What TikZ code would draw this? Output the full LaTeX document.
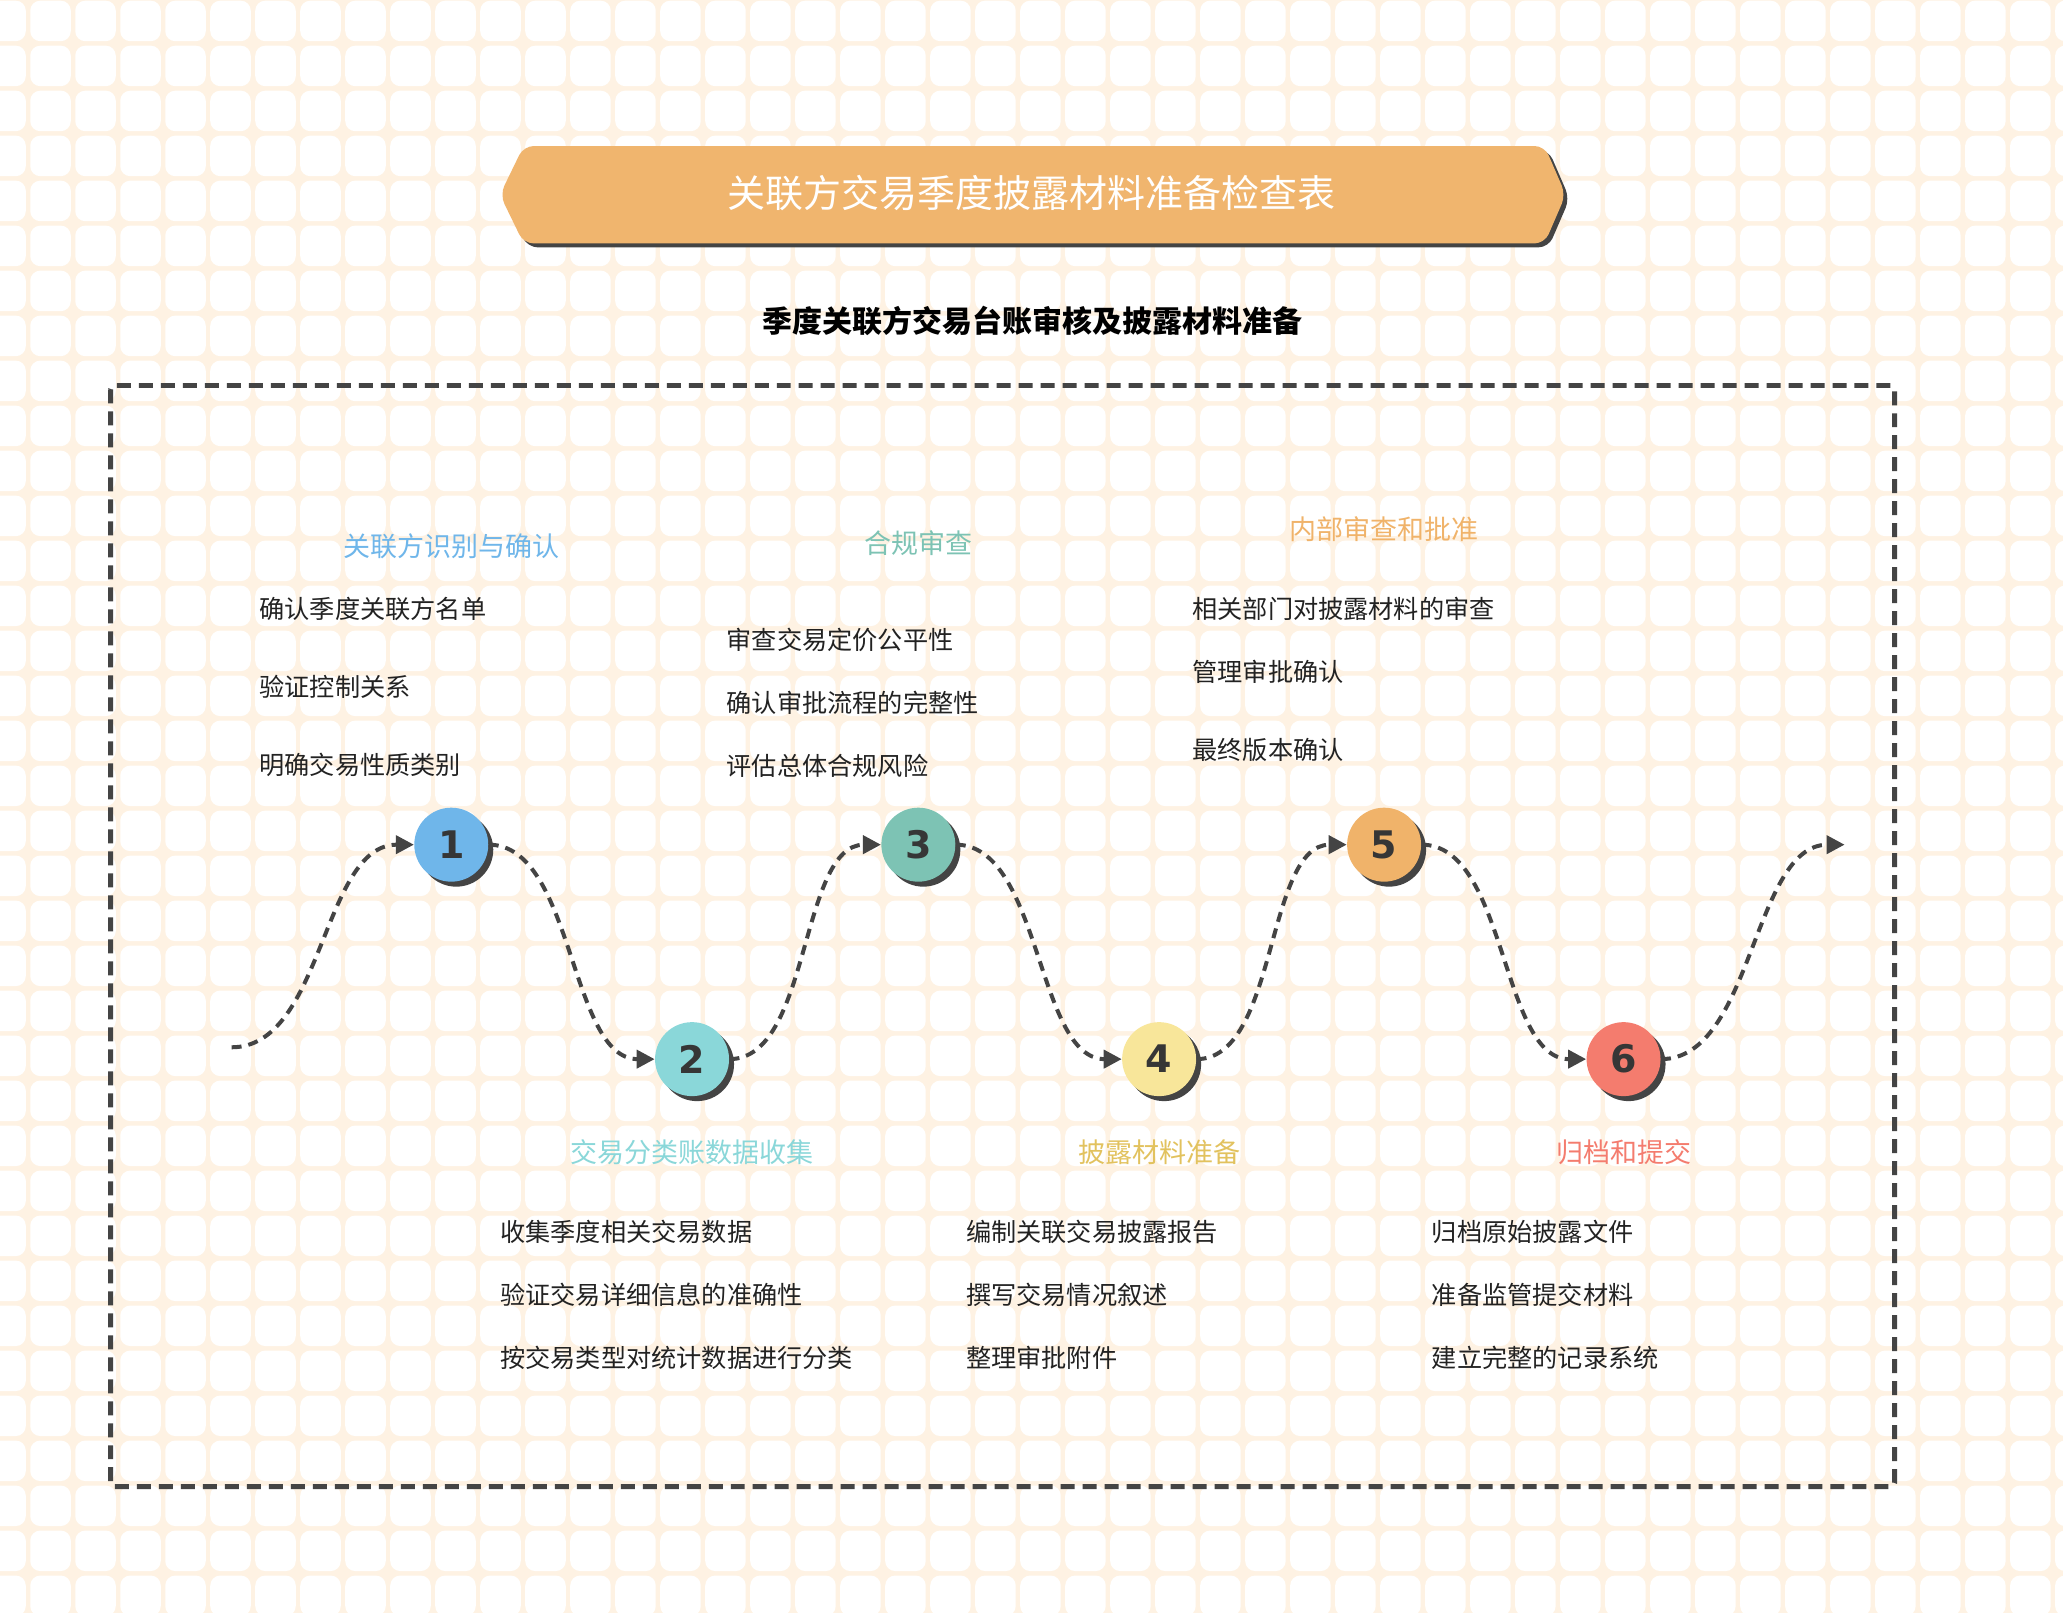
\documentclass[tikz,border=0pt]{standalone}
\usepackage{fontspec}
\newfontfamily\cjk{Noto Sans CJK SC}
\newfontfamily\numfont{DejaVu Sans}
\usetikzlibrary{arrows.meta,shadows}
\definecolor{bgc}{HTML}{FEF2E3}
\definecolor{bannerc}{HTML}{F0B56E}
\definecolor{linec}{HTML}{444444}
\definecolor{txtc}{HTML}{222222}
\definecolor{cA}{HTML}{6FB6EA}
\definecolor{cB}{HTML}{8AD7D9}
\definecolor{cC}{HTML}{7DC3B4}
\definecolor{cD}{HTML}{F8E69A}
\definecolor{cE}{HTML}{F0B36A}
\definecolor{cF}{HTML}{F47C6E}
\definecolor{hD}{HTML}{E2C25E}
\tikzset{
  stepnode/.style={circle, minimum size=37pt, inner sep=0pt, fill=#1,
    font=\numfont\bfseries\fontsize{19}{19}\selectfont, text=linec!80!black,
    drop shadow={shadow xshift=2.5pt, shadow yshift=-2.5pt, fill=linec, opacity=1}},
  heading/.style={inner sep=0pt, text=#1, font=\cjk\fontsize{13.5}{16}\selectfont},
  item/.style={inner sep=0pt, anchor=west, text=txtc, font=\cjk\fontsize{12.6}{15}\selectfont},
  flow/.style={draw=linec, line width=2pt, dash pattern=on 5pt off 3.5pt,
    -{Triangle[length=9pt,width=9pt]}},
  frame/.style={draw=linec, line width=2.5pt, dash pattern=on 7pt off 4pt, rounded corners=2pt},
}
\begin{document}
\begin{tikzpicture}[x=0.658pt,y=-0.658pt]
\useasboundingbox (0,0) rectangle (1568,1226);
\begin{scope}
\clip (0,0) rectangle (1568,1226);
\fill[bgc] (0,0) rectangle (1568,1226);
\foreach \i in {0,...,46} {
  \foreach \j in {0,...,36} {
    \fill[white, rounded corners=5pt] ({4.2+34.2*\i-15.4},{15.9+34.2*\j-15.4}) rectangle +(30.8,30.8);
  }
}
\end{scope}

% title banner
\fill[linec, rounded corners=5pt] (401,114) -- (1177,114) -- (1193,151) -- (1177,188) -- (401,188) -- (383,151) -- cycle;
\fill[bannerc, rounded corners=5pt] (398,111) -- (1174,111) -- (1190,148) -- (1174,185) -- (398,185) -- (380,148) -- cycle;
\node[inner sep=0pt, text=white, font=\cjk\fontsize{19}{22}\selectfont] (title) at (784,147) {关联方交易季度披露材料准备检查表};
\node[inner sep=0pt, text=black, font=\cjk\bfseries\fontsize{15}{18}\selectfont] (subtitle) at (785,244) {季度关联方交易台账审核及披露材料准备};

% frame
\draw[frame] (84,293) rectangle (1440,1130);

% step nodes
\node[stepnode=cA] (n1) at (343,642) {1};
\node[stepnode=cB] (n2) at (526,805) {2};
\node[stepnode=cC] (n3) at (698,642) {3};
\node[stepnode=cD] (n4) at (881,805) {4};
\node[stepnode=cE] (n5) at (1052,642) {5};
\node[stepnode=cF] (n6) at (1234,805) {6};

\coordinate (s) at (176,796);
\coordinate (e) at (1402,642);
\draw[flow] (s) .. controls +(70,0) and +(-70,0) .. (n1.west);
\draw[flow] (n1.east) .. controls +(65,0) and +(-65,0) .. (n2.west);
\draw[flow] (n2.east) .. controls +(62,0) and +(-62,0) .. (n3.west);
\draw[flow] (n3.east) .. controls +(65,0) and +(-65,0) .. (n4.west);
\draw[flow] (n4.east) .. controls +(62,0) and +(-62,0) .. (n5.west);
\draw[flow] (n5.east) .. controls +(65,0) and +(-65,0) .. (n6.west);
\draw[flow] (n6.east) .. controls +(70,0) and +(-70,0) .. (e);

% headings
\node[heading=cA] (h1) at (343,415) {关联方识别与确认};
\node[heading=cC] (h3) at (698,413) {合规审查};
\node[heading=cE] (h5) at (1052,402) {内部审查和批准};
\node[heading=cB] (h2) at (526,876) {交易分类账数据收集};
\node[heading=hD] (h4) at (881,876) {披露材料准备};
\node[heading=cF] (h6) at (1234,876) {归档和提交};

% items
\node[item] (a1) at (197,463) {确认季度关联方名单};
\node[item] (a2) at (197,522) {验证控制关系};
\node[item] (a3) at (197,581) {明确交易性质类别};

\node[item] (c1) at (552,486) {审查交易定价公平性};
\node[item] (c2) at (552,534) {确认审批流程的完整性};
\node[item] (c3) at (552,582) {评估总体合规风险};

\node[item] (e1) at (906,463) {相关部门对披露材料的审查};
\node[item] (e2) at (906,511) {管理审批确认};
\node[item] (e3) at (906,570) {最终版本确认};

\node[item] (b1) at (380,936) {收集季度相关交易数据};
\node[item] (b2) at (380,984) {验证交易详细信息的准确性};
\node[item] (b3) at (380,1032) {按交易类型对统计数据进行分类};

\node[item] (d1) at (734,936) {编制关联交易披露报告};
\node[item] (d2) at (734,984) {撰写交易情况叙述};
\node[item] (d3) at (734,1032) {整理审批附件};

\node[item] (f1) at (1088,936) {归档原始披露文件};
\node[item] (f2) at (1088,984) {准备监管提交材料};
\node[item] (f3) at (1088,1032) {建立完整的记录系统};
\end{tikzpicture}
\end{document}
